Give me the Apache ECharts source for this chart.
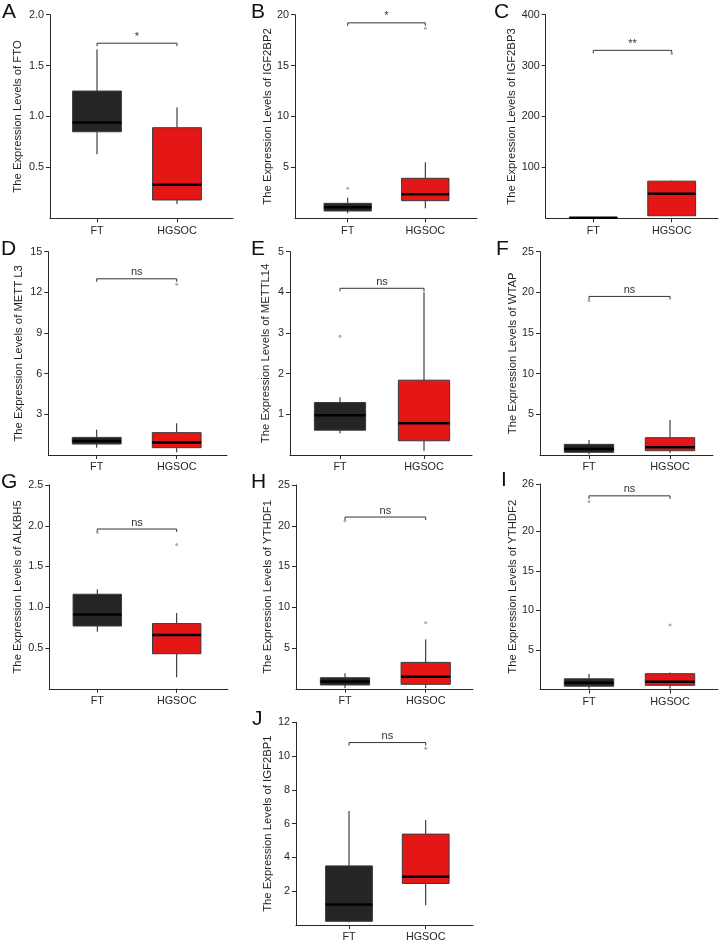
<!DOCTYPE html>
<html>
<head>
<meta charset="utf-8">
<script src="https://cdn.jsdelivr.net/npm/echarts@6/dist/echarts.min.js"></script>
<style>html,body{margin:0;padding:0;background:#fff;}#chart{width:720px;height:943px;}</style>
</head>
<body>
<div id="chart"></div>
<script>
// ---------- DATA ----------
const genes = ['FTO', 'IGF2BP2', 'IGF2BP3', 'METT L3', 'METTL14', 'WTAP', 'ALKBH5', 'YTHDF1', 'YTHDF2', 'IGF2BP1'];
const letters = ['A', 'B', 'C', 'D', 'E', 'F', 'G', 'H', 'I', 'J'];
const groups = ['FT', 'HGSOC'];
// [min, Q1, median, Q3, max]
const ftStats = [
  [0.63, 0.85, 0.94, 1.25, 1.66],
  [0.49, 0.72, 1.08, 1.47, 2.02],
  [0.3, 0.6, 1.0, 1.5, 2.2],
  [0.54, 0.81, 1.03, 1.3, 1.87],
  [0.53, 0.61, 0.98, 1.29, 1.42],
  [0.1, 0.33, 0.74, 1.31, 1.84],
  [0.70, 0.77, 0.91, 1.16, 1.22],
  [0.1, 0.47, 0.9, 1.36, 1.9],
  [0.1, 0.42, 0.85, 1.35, 1.96],
  [0.15, 0.22, 1.21, 3.5, 6.75]
];
const hgStats = [
  [0.14, 0.18, 0.33, 0.89, 1.09],
  [0.98, 1.73, 2.36, 3.93, 5.5],
  [4, 5, 48, 73, 74],
  [0.2, 0.54, 0.93, 1.65, 2.34],
  [0.1, 0.35, 0.78, 1.84, 4.0],
  [0.25, 0.53, 0.94, 2.13, 4.3],
  [0.14, 0.43, 0.66, 0.80, 0.93],
  [0.1, 0.55, 1.48, 3.24, 6.06],
  [0.1, 0.53, 0.99, 2.0, 2.15],
  [1.17, 2.46, 2.85, 5.38, 6.21]
];
const ftOutliers = [[], [2.95], [], [], [2.92], [19.0], [1.92], [20.6], [23.8], []];
const hgOutliers = [[], [18.66], [324], [12.6], [], [], [1.77], [8.1], [8.16], [10.47]];
const yTicks = [
  [0.5, 1.0, 1.5, 2.0],
  [5, 10, 15, 20],
  [100, 200, 300, 400],
  [3, 6, 9, 12, 15],
  [1, 2, 3, 4, 5],
  [5, 10, 15, 20, 25],
  [0.5, 1.0, 1.5, 2.0, 2.5],
  [5, 10, 15, 20, 25],
  [5, 10, 15, 20, 26],
  [2, 4, 6, 8, 10, 12]
];
const sigLabels = ['*', '*', '**', 'ns', 'ns', 'ns', 'ns', 'ns', 'ns', 'ns'];
const bracketY = [1.72, 19.2, 330, 13.0, 4.1, 19.5, 1.96, 21.07, 24.5, 10.8];

// ---------- LAYOUT / STYLE ----------
const layout = [
  {l: 50, r: 233, t: 14.7, b: 218.3, fx: 97, hx: 177, gap: 27, lx: 2, ly: 5},
  {l: 295, r: 477, t: 14.7, b: 218.3, fx: 347.7, hx: 425.3, gap: 21, lx: 251, ly: 5},
  {l: 545.7, r: 718, t: 14.7, b: 218.3, fx: 593.3, hx: 671.7, gap: 28, lx: 494, ly: 5},
  {l: 48.3, r: 227, t: 251.7, b: 455, fx: 96.7, hx: 176.7, gap: 24, lx: 1, ly: 242},
  {l: 290, r: 472, t: 251.7, b: 455, fx: 340, hx: 424, gap: 19, lx: 251, ly: 242},
  {l: 540, r: 713, t: 251.7, b: 455, fx: 589, hx: 670, gap: 22, lx: 496, ly: 242},
  {l: 49.3, r: 228, t: 485, b: 688.8, fx: 97.3, hx: 176.7, gap: 26, lx: 1, ly: 475},
  {l: 296, r: 473, t: 485, b: 688.8, fx: 345, hx: 425.7, gap: 23, lx: 251, ly: 475},
  {l: 540, r: 718, t: 484, b: 689.5, fx: 589, hx: 670, gap: 22, lx: 501, ly: 473},
  {l: 296, r: 473, t: 722.3, b: 925, fx: 349, hx: 425.7, gap: 23, lx: 252, ly: 712}
];
const FONT = '"Liberation Sans", Arial, Helvetica, sans-serif';
const boxFills = ['#252525', '#e51616'];
const axisColor = '#2a2a2a';
const textColor = '#262626';

const grids = [], xAxes = [], yAxes = [], series = [], titles = [];

genes.forEach((gene, i) => {
  const L = layout[i];
  const s = L.hx - L.fx;
  const xMin = 1 - (L.fx - L.l) / s;
  const xMax = 2 + (L.r - L.hx) / s;
  const ticks = yTicks[i];
  const dec = ticks.some(v => Math.round(v) !== v) ? 1 : 0;

  grids.push({left: L.l, top: L.t, width: L.r - L.l, height: L.b - L.t, outerBoundsMode: 'none', containLabel: false});
  xAxes.push({
    gridIndex: i, type: 'value', min: xMin, max: xMax,
    axisLine: {show: true, onZero: false, lineStyle: {color: axisColor, width: 1}},
    axisTick: {show: true, length: 4, customValues: [1, 2], lineStyle: {color: axisColor}},
    axisLabel: {show: true, customValues: [1, 2], formatter: v => groups[Math.round(v) - 1] || '',
      margin: 7, fontSize: 10.8, color: textColor, fontFamily: FONT},
    splitLine: {show: false}
  });
  yAxes.push({
    gridIndex: i, type: 'value', min: 0, max: ticks[ticks.length - 1],
    name: 'The Expression Levels of ' + gene, nameLocation: 'middle', nameGap: L.gap,
    nameTextStyle: {fontSize: 11.3, color: '#1e1e1e', fontFamily: FONT},
    axisLine: {show: true, onZero: false, lineStyle: {color: axisColor, width: 1}},
    axisTick: {show: true, length: 4, customValues: ticks, lineStyle: {color: axisColor}},
    axisLabel: {show: true, customValues: ticks, formatter: v => Number(v).toFixed(dec),
      margin: 6, fontSize: 10.8, color: textColor, fontFamily: FONT},
    splitLine: {show: false}
  });
  titles.push({text: letters[i], left: L.lx, top: L.ly - 3, padding: 0,
    textStyle: {fontSize: 21, fontWeight: 'normal', color: '#111', fontFamily: FONT}});

  // boxes
  series.push({
    type: 'custom', xAxisIndex: i, yAxisIndex: i, silent: true,
    data: [[1].concat(ftStats[i]), [2].concat(hgStats[i])],
    encode: {x: 0, y: [1, 2, 3, 4, 5]},
    renderItem: (params, api) => {
      const x = api.value(0);
      const c = k => api.coord([x, api.value(k)]);
      const pMin = c(1), pQ1 = c(2), pMed = c(3), pQ3 = c(4), pMax = c(5);
      const cx = pMin[0];
      const w = api.size([0.61, 0])[0];
      return {type: 'group', children: [
        {type: 'line', shape: {x1: cx, y1: pMax[1], x2: cx, y2: pQ3[1]}, style: {stroke: '#1a1a1a', lineWidth: 1}},
        {type: 'line', shape: {x1: cx, y1: pQ1[1], x2: cx, y2: pMin[1]}, style: {stroke: '#1a1a1a', lineWidth: 1}},
        {type: 'rect', shape: {x: cx - w / 2, y: pQ3[1], width: w, height: Math.max(pQ1[1] - pQ3[1], 0.5)},
          style: {fill: boxFills[Math.round(x) - 1], stroke: '#3a3a3a', lineWidth: 1}},
        {type: 'line', shape: {x1: cx - w / 2, y1: pMed[1], x2: cx + w / 2, y2: pMed[1]}, style: {stroke: '#000', lineWidth: 2.5}}
      ]};
    }
  });
  // outliers
  const outl = ftOutliers[i].map(v => [1, v]).concat(hgOutliers[i].map(v => [2, v]));
  series.push({
    type: 'scatter', xAxisIndex: i, yAxisIndex: i, silent: true,
    data: outl, symbol: 'circle', symbolSize: 3,
    itemStyle: {color: '#9a9a9a'}
  });
  // significance bracket
  series.push({
    type: 'custom', xAxisIndex: i, yAxisIndex: i, silent: true,
    data: [[1, 2, bracketY[i]]],
    encode: {x: [0, 1], y: 2},
    renderItem: (params, api) => {
      const p1 = api.coord([api.value(0), api.value(2)]);
      const p2 = api.coord([api.value(1), api.value(2)]);
      return {type: 'group', children: [
        {type: 'polyline', shape: {points: [[p1[0], p1[1] + 3], [p1[0], p1[1]], [p2[0], p2[1]], [p2[0], p2[1] + 3]]},
          style: {stroke: '#333', lineWidth: 1, fill: null}},
        {type: 'text', x: (p1[0] + p2[0]) / 2, y: p1[1] - 1,
          style: {text: sigLabels[i], textAlign: 'center', textVerticalAlign: 'bottom',
            fontSize: 11, fontFamily: FONT, fill: '#333'}}
      ]};
    }
  });
});

const chart = echarts.init(document.getElementById('chart'), null, {renderer: 'canvas'});
chart.setOption({
  animation: false,
  backgroundColor: '#fff',
  title: titles,
  grid: grids,
  xAxis: xAxes,
  yAxis: yAxes,
  series: series
});
</script>
</body>
</html>
